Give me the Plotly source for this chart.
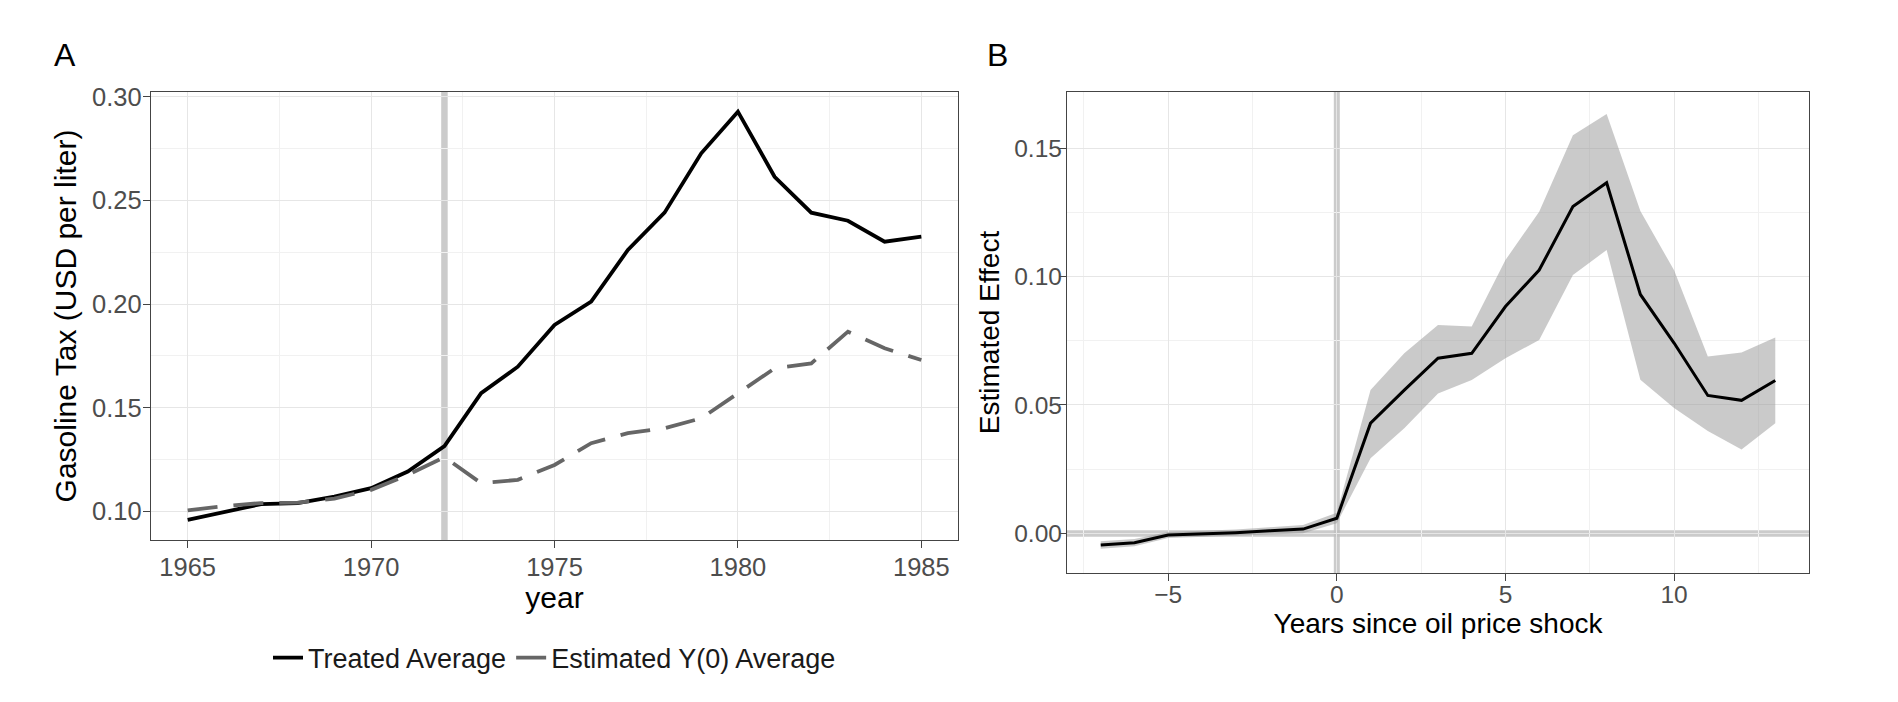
import plotly.graph_objects as go

# ---------------- Data ----------------
years = list(range(1965, 1986))
treated_avg = [0.0959, 0.0999, 0.1035, 0.1040, 0.1071, 0.1112, 0.1192, 0.1315,
               0.1570, 0.1698, 0.1899, 0.2012, 0.2261, 0.2441, 0.2727, 0.2928,
               0.2614, 0.2441, 0.2402, 0.2301, 0.2325]
y0_avg = [0.1005, 0.1025, 0.1040, 0.1042, 0.1062, 0.1104, 0.1176, 0.1262,
          0.1136, 0.1152, 0.1224, 0.1329, 0.1377, 0.1401, 0.1449, 0.1570,
          0.1690, 0.1714, 0.1867, 0.1787, 0.1730]
treat_year = 1972

event_time = list(range(-7, 14))
effect = [-0.0045, -0.0036, -0.0006, -0.0002, 0.0003, 0.0010, 0.0017, 0.0059,
          0.0429, 0.0558, 0.0682, 0.0701, 0.0883, 0.1025, 0.1272, 0.1365,
          0.0930, 0.0741, 0.0537, 0.0518, 0.0595]
effect_hi = [-0.0030, -0.0022, 0.0006, 0.0010, 0.0015, 0.0024, 0.0033, 0.0080,
             0.0558, 0.0701, 0.0811, 0.0805, 0.1064, 0.1252, 0.1550, 0.1632,
             0.1255, 0.1024, 0.0689, 0.0704, 0.0763]
effect_lo = [-0.0060, -0.0050, -0.0018, -0.0014, -0.0009, -0.0004, 0.0001, 0.0040,
             0.0293, 0.0409, 0.0545, 0.0597, 0.0682, 0.0753, 0.1006, 0.1103,
             0.0598, 0.0488, 0.0399, 0.0327, 0.0429]
shock_time = 0
ref_effect = 0

legend_labels = ["Treated Average", "Estimated Y(0) Average"]
y_title_a = "Gasoline Tax (USD per liter)"
x_title_a = "year"
y_title_b = "Estimated Effect"
x_title_b = "Years since oil price shock"

# ---------------- Figure ----------------
W, H = 1898, 702
FONT = "Liberation Sans, Arial, Helvetica, sans-serif"
REF_GREY = "rgba(190,190,190,0.8)"

fig = go.Figure()

# Panel A
fig.add_trace(go.Scatter(x=years, y=treated_avg, mode="lines", name=legend_labels[0],
                         line=dict(color="black", width=3.8), xaxis="x", yaxis="y"))
fig.add_trace(go.Scatter(x=years, y=y0_avg, mode="lines", name=legend_labels[1],
                         line=dict(color="#666666", width=3.8, dash="30px,16px"),
                         xaxis="x", yaxis="y"))

# Panel B
fig.add_trace(go.Scatter(x=event_time, y=effect_hi, mode="lines", line=dict(width=0),
                         showlegend=False, hoverinfo="skip", xaxis="x2", yaxis="y2"))
fig.add_trace(go.Scatter(x=event_time, y=effect_lo, mode="lines", line=dict(width=0),
                         fill="tonexty", fillcolor="rgba(150,150,150,0.5)",
                         showlegend=False, hoverinfo="skip", xaxis="x2", yaxis="y2"))
fig.add_trace(go.Scatter(x=event_time, y=effect, mode="lines", showlegend=False,
                         line=dict(color="black", width=3), xaxis="x2", yaxis="y2"))

# reference lines
fig.add_shape(type="line", xref="x", yref="y domain", x0=treat_year, x1=treat_year,
              y0=0, y1=1, line=dict(color=REF_GREY, width=6.5), layer="below")
fig.add_shape(type="line", xref="x2", yref="y2 domain", x0=shock_time, x1=shock_time,
              y0=0, y1=1, line=dict(color=REF_GREY, width=6), layer="below")
fig.add_shape(type="line", xref="x2 domain", yref="y2", x0=0, x1=1,
              y0=ref_effect, y1=ref_effect, line=dict(color=REF_GREY, width=6.5), layer="below")


def axis(tick_size, title, title_size, standoff, **kw):
    d = dict(showline=True, linecolor="#444444", linewidth=1.4, mirror=True,
             ticks="outside", ticklen=7, tickwidth=1.3, tickcolor="#444444",
             showgrid=True, gridcolor="#e6e6e6", gridwidth=1.4, zeroline=False,
             tickfont=dict(family=FONT, size=tick_size, color="#4d4d4d"),
             title=dict(text=title, font=dict(family=FONT, size=title_size, color="black"),
                        standoff=standoff),
             minor=dict(showgrid=True, gridcolor="#f1f1f1", gridwidth=0.9, ticks=""),
             automargin=False)
    d.update(kw)
    return d


fig.update_layout(
    width=W, height=H,
    margin=dict(l=0, r=0, t=0, b=0),
    paper_bgcolor="white", plot_bgcolor="white",
    font=dict(family=FONT, color="black"),
    xaxis=axis(25.5, x_title_a, 30, 1, domain=[151 / W, 958 / W], range=[1964, 1986],
               tick0=1965, dtick=5, minor_dtick=2.5, anchor="y", ticklabelstandoff=-3),
    yaxis=axis(25.5, y_title_a, 30, 6, domain=[1 - 540 / H, 1 - 92 / H],
               range=[0.0862, 0.3023], tick0=0, dtick=0.05, minor_dtick=0.025,
               tickformat=".2f", anchor="x", ticklabelstandoff=-4),
    xaxis2=axis(24.5, x_title_b, 28, 4, domain=[1067 / W, 1809 / W], range=[-8, 14],
                tick0=0, dtick=5, minor_dtick=2.5, anchor="y2", ticklabelstandoff=-8),
    yaxis2=axis(24.5, y_title_b, 28, 6, domain=[1 - 573 / H, 1 - 92 / H],
                range=[-0.0154, 0.1718], tick0=0, dtick=0.05, minor_dtick=0.025,
                tickformat=".2f", anchor="x2", ticklabelstandoff=-8),
    legend=dict(orientation="h", x=(151 + 958) / 2 / W, xanchor="center",
                y=1 - 658 / H, yanchor="middle", traceorder="normal",
                font=dict(family=FONT, size=27, color="#1a1a1a"),
                bgcolor="rgba(0,0,0,0)"),
    showlegend=True,
    annotations=[
        dict(text="A", x=52 / W, y=1 - 55 / H, xref="paper", yref="paper",
             xanchor="left", yanchor="middle", showarrow=False,
             font=dict(family=FONT, size=32, color="black")),
        dict(text="B", x=985 / W, y=1 - 55 / H, xref="paper", yref="paper",
             xanchor="left", yanchor="middle", showarrow=False,
             font=dict(family=FONT, size=32, color="black")),
    ],
)

fig.write_html("out.html", config={"displayModeBar": False},
               post_script="document.body.style.margin='0';document.body.style.overflow='hidden';")
